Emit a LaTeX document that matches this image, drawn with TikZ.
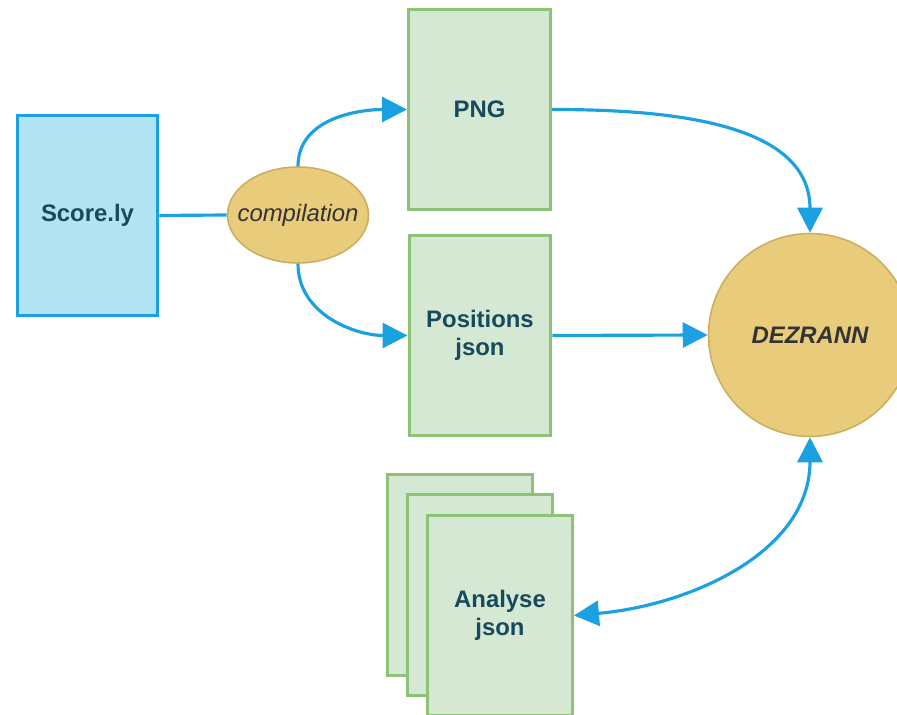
\documentclass[tikz,border=0pt]{standalone}
\usepackage{fontspec}
\setmainfont{Liberation Sans}
\usetikzlibrary{shapes.geometric,arrows.meta}
\definecolor{linkblue}{HTML}{1BA1E2}
\definecolor{scorefill}{HTML}{B1E3F3}
\definecolor{filefill}{HTML}{D5E8D4}
\definecolor{fileline}{HTML}{8CC377}
\definecolor{goldfill}{HTML}{E8CC7C}
\definecolor{goldline}{HTML}{CDAE5A}
\definecolor{labeltext}{HTML}{174A5C}
\newcommand{\labelsize}{\fontsize{13.6}{16}\selectfont}
\tikzset{scorebox/.style={draw=linkblue, fill=scorefill, line width=1.7pt,
        minimum width=2.82cm, minimum height=4.02cm, font=\labelsize\bfseries, text=labeltext}}
\tikzset{filebox/.style={draw=fileline, fill=filefill, line width=1.7pt,
        minimum width=2.84cm, minimum height=4.02cm, align=center,
        font=\labelsize\bfseries, text=labeltext}}
\tikzset{gold/.style={draw=goldline, fill=goldfill, line width=0.9pt,
        font=\labelsize\itshape, text=black!80, inner sep=0}}
\tikzset{goldtext/.style={font=\labelsize\itshape, text=black!80}}
\tikzset{link/.style={draw=linkblue, line width=1.8pt}}
\tikzset{tip/.tip={Triangle[length=0.5cm,width=0.5cm]}}

\begin{document}
\begin{tikzpicture}[x=0.02cm, y=-0.02cm]
\useasboundingbox (0,0) rectangle (897,715);
% Score
\node[scorebox] (score) at (87.5,215.5) {Score.ly};
% Compilation
\node[gold, ellipse, minimum width=2.82cm, minimum height=1.92cm,
      label={[goldtext]center:compilation}] (comp) at (298,215) {};
% Outputs
\node[filebox] (png) at (479.5,109.5) {PNG};
\node[filebox] (pos) at (480,335.5) {Positions\\json};
% Dezrann
\node[gold, circle, minimum size=4.06cm, font=\labelsize\bfseries\itshape] (dez) at (810,335) {DEZRANN};
% Analyses (stack)
\node[filebox, minimum width=2.9cm] (ana3) at (460,575) {};
\node[filebox, minimum width=2.9cm] (ana2) at (480,595) {};
\node[filebox, minimum width=2.9cm] (ana1) at (500,615.5) {Analyse\\json};
% Links
\draw[link] (score.east) -- (comp.west);
\draw[link, -tip] (comp.north) to[out=90, in=180] (png.west);
\draw[link, -tip] (comp.south) to[out=-90, in=180] (pos.west);
\draw[link, -tip] (png.east) to[out=0, in=90] (dez.north);
\draw[link, -tip] (pos.east) -- (dez.west);
\draw[link, tip-tip] (dez.south) to[out=-90, in=5] (ana1.east);
\end{tikzpicture}
\end{document}
